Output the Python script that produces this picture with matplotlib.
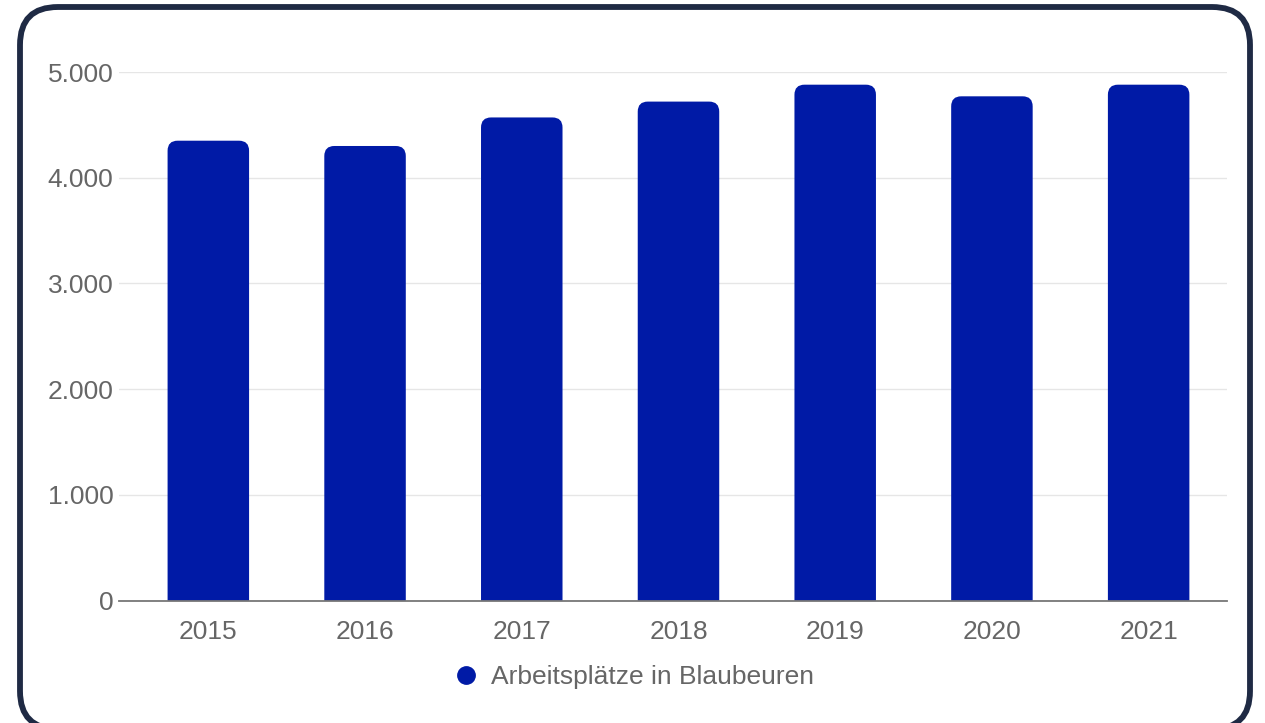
import matplotlib.pyplot as plt
from matplotlib.patches import FancyBboxPatch
from matplotlib.lines import Line2D
from matplotlib.ticker import FuncFormatter

# data
years = ["2015", "2016", "2017", "2018", "2019", "2020", "2021"]
jobs = [4350, 4300, 4570, 4720, 4880, 4770, 4880]
y_ticks = [0, 1000, 2000, 3000, 4000, 5000]
series_name = "Arbeitsplätze in Blaubeuren"

BAR = "#001aa6"
TXT = "#666666"
FRAME = "#1f2a44"
FS = 19

plt.rcParams["font.family"] = ["Liberation Sans", "DejaVu Sans"]

W, H = 1265, 723
fig = plt.figure(figsize=(W / 100, H / 100), dpi=100)

# rounded outer frame (figure pixel coords converted to fractions)
frame = FancyBboxPatch((20 / W, 1 - 729 / H), 1230 / W, 722 / H,
                       boxstyle="round,pad=0,rounding_size=0.03",
                       mutation_aspect=W / H,
                       transform=fig.transFigure, facecolor="white",
                       edgecolor=FRAME, linewidth=4.2, clip_on=False,
                       zorder=-10)
fig.patches.append(frame)

ax = fig.add_axes([119 / W, 1 - 600.5 / H, (1227 - 119) / W, (600.5 - 72) / H])
ax.set_facecolor("none")

x_lo, x_hi = -0.57, 6.5
ax.set_xlim(x_lo, x_hi)
ax.set_ylim(0, 5000)

# pixel -> data aspect so bar corners come out round
px_x = (x_hi - x_lo) / (1227 - 119)
px_y = 5000 / (600.5 - 72)
width = 0.52
for i, v in enumerate(jobs):
    bar = FancyBboxPatch((i - width / 2, -300), width, v + 300,
                         boxstyle=f"round,pad=0,rounding_size={10 * px_x}",
                         mutation_aspect=px_y / px_x,
                         facecolor=BAR, edgecolor="none", zorder=3)
    ax.add_patch(bar)

ax.set_xticks(range(len(years)))
ax.set_xticklabels(years)
ax.set_yticks(y_ticks)
ax.yaxis.set_major_formatter(FuncFormatter(lambda v, p: f"{int(v):,}".replace(",", ".")))

ax.grid(axis="y", color="#e6e6e6", linewidth=1.0, zorder=0)
ax.tick_params(axis="both", length=0, colors=TXT, labelsize=FS)
ax.tick_params(axis="x", pad=14)
ax.tick_params(axis="y", pad=4)
for s in ["top", "right", "left"]:
    ax.spines[s].set_visible(False)
ax.spines["bottom"].set_color("#777777")
ax.spines["bottom"].set_linewidth(1.3)
ax.spines["bottom"].set_zorder(4)

handle = Line2D([], [], linestyle="none", marker="o", markersize=12.5,
                markerfacecolor=BAR, markeredgecolor=BAR)
fig.legend([handle], [series_name], loc="center",
           bbox_to_anchor=(633 / W, 1 - 677 / H), frameon=False,
           fontsize=FS, labelcolor=TXT, handletextpad=0.45,
           handlelength=1.0)

fig.savefig("out.png", dpi=100)
